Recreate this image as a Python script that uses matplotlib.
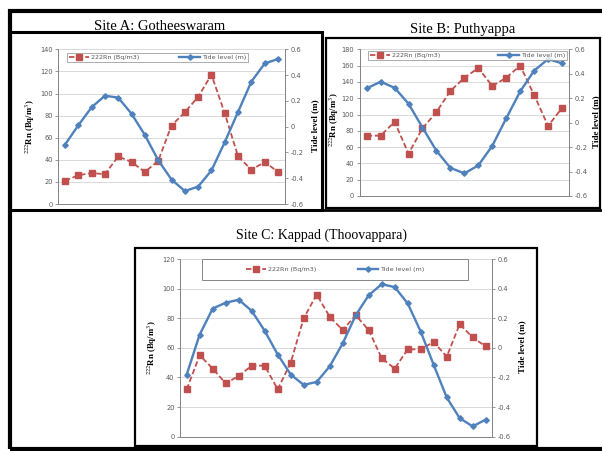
import numpy as np
import matplotlib
matplotlib.use('Agg')
import matplotlib.pyplot as plt
from matplotlib.patches import Rectangle

W, H = 602, 451

# Site A: Gotheeswaram
site_a_radon = [21, 26, 28, 27, 43, 38, 29, 39, 71, 83, 97, 117, 82, 43, 31, 38, 29]
site_a_tide = [-0.14, 0.01, 0.15, 0.24, 0.225, 0.10, -0.065, -0.26, -0.41, -0.50, -0.465, -0.34, -0.12, 0.115, 0.35, 0.49, 0.525]

# Site B: Puthyappa
site_b_radon = [74, 74, 91, 52, 83, 103, 129, 145, 157, 135, 145, 160, 124, 86, 108]
site_b_tide = [0.28, 0.335, 0.285, 0.155, -0.04, -0.23, -0.37, -0.415, -0.35, -0.19, 0.035, 0.255, 0.425, 0.52, 0.485]

# Site C: Kappad (Thoovappara)
site_c_radon = [32, 55, 46, 36, 41, 48, 48, 32, 50, 80, 96, 81, 72, 82, 72, 53, 46, 59, 59, 64, 54, 76, 67, 61]
site_c_tide = [-0.18, 0.09, 0.265, 0.305, 0.325, 0.25, 0.115, -0.045, -0.18, -0.25, -0.23, -0.125, 0.03, 0.22, 0.355, 0.43, 0.41, 0.30, 0.11, -0.115, -0.335, -0.475, -0.53, -0.485]

tide_ticks = [-0.6, -0.4, -0.2, 0, 0.2, 0.4, 0.6]
tide_labels = ['-0.6', '-0.4', '-0.2', '0', '0.2', '0.4', '0.6']

RED = '#C0504D'
BLUE = '#4F81BD'
GRID = '#D9D9D9'
AX = '#868686'
TXT = '#595959'

plt.rcParams['mathtext.fontset'] = 'stix'
fig = plt.figure(figsize=(W / 100, H / 100), dpi=100)


def fbox(l, t, r, b):
    return [l / W, 1 - b / H, (r - l) / W, (b - t) / H]


def rect(l, t, r, b, lw, color='black'):
    fig.add_artist(Rectangle((l / W, 1 - b / H), (r - l) / W, (b - t) / H,
                             transform=fig.transFigure, fill=False,
                             edgecolor=color, linewidth=lw))


def panel(box, radon, tide, ymax, leg_box, lab_left, lab_right, expand=True, colsp=2.0):
    ax = fig.add_axes(fbox(*box))
    ax2 = ax.twinx()
    x = np.arange(1, len(radon) + 1)
    l1, = ax.plot(x, radon, color=RED, ls='--', lw=1.3, marker='s', ms=4.2,
                  label='222Rn (Bq/m3)', dashes=(3, 1.5), zorder=3)
    l2, = ax2.plot(x, tide, color=BLUE, lw=1.7, marker='D', ms=2.8,
                   label='Tide level (m)', zorder=3)
    ax.set_xlim(0.5, len(radon) + 0.5)
    ax.set_ylim(0, ymax)
    ax.set_yticks(np.arange(0, ymax + 1, 20))
    ax2.set_ylim(-0.6, 0.6)
    ax2.set_yticks(tide_ticks)
    ax2.set_yticklabels(tide_labels)
    ax.set_xticks([])
    ax.grid(axis='y', color=GRID, lw=0.7)
    ax.set_axisbelow(True)
    for a in (ax, ax2):
        a.spines['top'].set_visible(False)
        for s in ('left', 'right', 'bottom'):
            a.spines[s].set_color(AX)
            a.spines[s].set_linewidth(0.7)
        a.tick_params(axis='y', labelsize=4.8, colors=AX, labelcolor=TXT,
                      length=2, width=0.6, pad=2)
    for t in ax.get_yticklabels() + ax2.get_yticklabels():
        t.set_family('DejaVu Sans')
    l, t, r, b = leg_box
    if expand:
        leg = ax2.legend(handles=[l1, l2], ncol=2, mode='expand',
                         bbox_to_anchor=fbox(l, t, r, b), bbox_transform=fig.transFigure,
                         loc='center', fontsize=4.6, frameon=True, fancybox=False,
                         handlelength=3.2, borderpad=0.3, handletextpad=0.3,
                         borderaxespad=0)
        leg.get_frame().set_edgecolor(AX)
        leg.get_frame().set_linewidth(0.6)
    else:
        leg = ax2.legend(handles=[l1, l2], ncol=2,
                         bbox_to_anchor=((l + r) / 2 / W, 1 - (t + b) / 2 / H),
                         bbox_transform=fig.transFigure, loc='center', fontsize=4.6,
                         frameon=False, handlelength=3.2, handletextpad=0.3,
                         columnspacing=colsp, borderaxespad=0, borderpad=0)
        rect(l, t, r, b, 0.7, AX)
    for txt in leg.get_texts():
        txt.set_color(TXT)
    fig.text(lab_left[0] / W, 1 - lab_left[1] / H, r'$^{222}$Rn (Bq/m$^{3}$)',
             rotation=90, ha='center', va='center', fontsize=6.3,
             family='Liberation Serif', weight='bold')
    fig.text(lab_right[0] / W, 1 - lab_right[1] / H, 'Tide level (m)',
             rotation=90, ha='center', va='center', fontsize=6.5,
             family='Liberation Serif', weight='bold')
    return ax


# frames of the composite
rect(10, 10.5, 606, 449, 3.0)
rect(10, 32, 322, 209.5, 2.2)
rect(326, 38, 600, 208, 1.6)
fig.add_artist(plt.Line2D([10 / W, 1.0], [1 - 209.5 / H, 1 - 209.5 / H],
                          transform=fig.transFigure, color='black', lw=2.0))
rect(135, 248, 537, 446, 1.6)

fig.text(160 / W, 1 - 27 / H, 'Site A: Gotheeswaram', ha='center', va='center',
         fontsize=10.5, family='Liberation Serif')
fig.text(463 / W, 1 - 29 / H, 'Site B: Puthyappa', ha='center', va='center',
         fontsize=10.5, family='Liberation Serif')
fig.text(322 / W, 1 - 235 / H, 'Site C: Kappad (Thoovappara)', ha='center', va='center',
         fontsize=10, family='Liberation Serif')

panel((58.3, 49.3, 284.7, 204), site_a_radon, site_a_tide, 140,
      (67, 50, 248, 65), (30, 127), (315, 126))
panel((359.7, 49.3, 569, 196), site_b_radon, site_b_tide, 180,
      (368, 50, 567, 61), (334, 120), (596, 122))
panel((180.2, 259, 492.2, 436.7), site_c_radon, site_c_tide, 120,
      (202, 259, 468, 280), (152, 348), (522, 347), expand=False, colsp=6.5)

fig.savefig('out.png', dpi=100, facecolor='white')
